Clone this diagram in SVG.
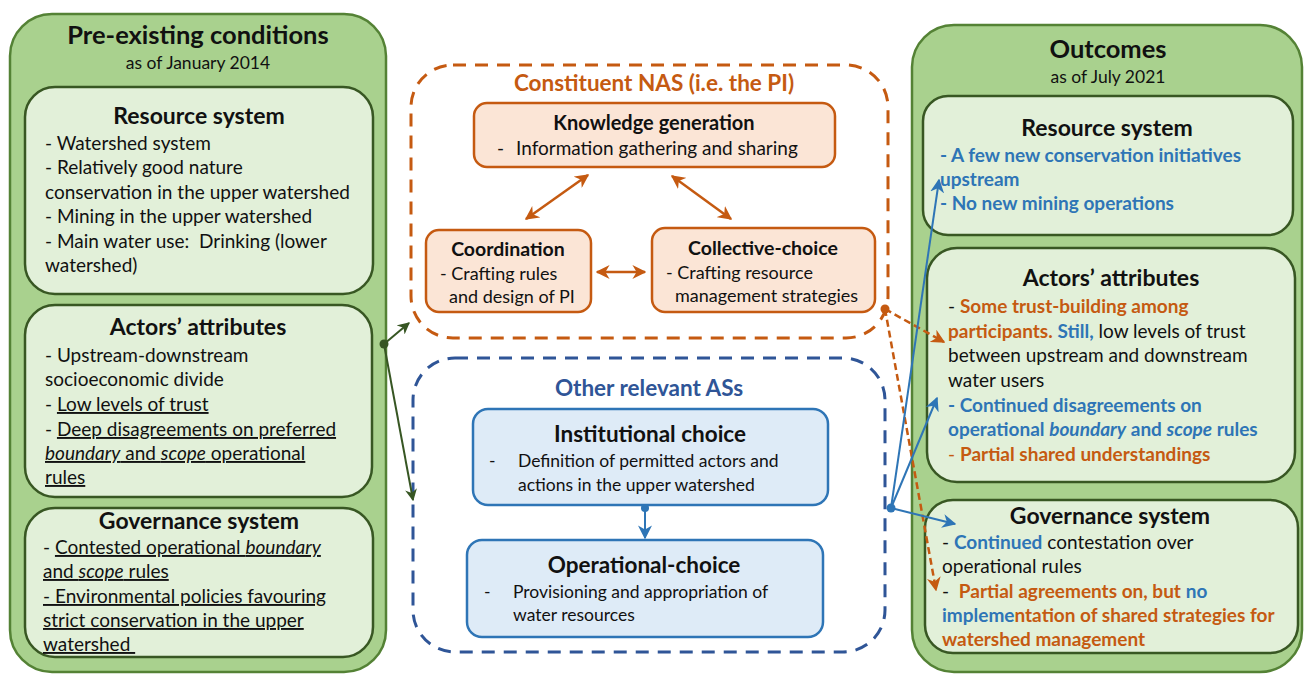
<svg xmlns="http://www.w3.org/2000/svg" width="1304" height="674" viewBox="0 0 1304 674">
<style>
text{font-family:Lato,"Liberation Sans",sans-serif;fill:#111;}
.panel{fill:#a9d18e;stroke:#548235;stroke-width:2.5;}
.inner{fill:#e2f0d9;stroke:#385723;stroke-width:2.5;}
.obox{fill:#fbe5d6;stroke:#c55a11;stroke-width:2.5;}
.bbox{fill:#deebf7;stroke:#2e75b6;stroke-width:2.5;}
.t1{font-size:25.5px;font-weight:bold;text-anchor:middle;}
.sub{font-size:17.5px;text-anchor:middle;}
.h{font-size:23px;font-weight:bold;text-anchor:middle;}
.h2{font-size:19.5px;font-weight:bold;text-anchor:middle;}
.h3{font-size:22.5px;font-weight:bold;text-anchor:middle;}
.b{font-size:19px;}
.s{font-size:18px;}
.sb{font-size:17.5px;}
.u{text-decoration:underline;}
.i{font-style:italic;}
.bl{fill:#2e75b6;font-weight:bold;}
.or{fill:#c55a11;font-weight:bold;}
.gc{stroke:#375623;stroke-width:2;fill:none;}
.oc{stroke:#c55a11;stroke-width:2.5;fill:none;}
.bc{stroke:#2e75b6;stroke-width:2;fill:none;}
</style>
<defs>
<marker id="ag" markerWidth="12" markerHeight="12" refX="9" refY="5" orient="auto-start-reverse" markerUnits="userSpaceOnUse" viewBox="0 0 10 10"><path d="M0,0 L10,5 L0,10 L3,5 z" fill="#375623"/></marker>
<marker id="ao" markerWidth="14" markerHeight="14" refX="9" refY="5" orient="auto-start-reverse" markerUnits="userSpaceOnUse" viewBox="0 0 10 10"><path d="M0,0 L10,5 L0,10 L3,5 z" fill="#c55a11"/></marker>
<marker id="ab" markerWidth="14" markerHeight="14" refX="9" refY="5" orient="auto-start-reverse" markerUnits="userSpaceOnUse" viewBox="0 0 10 10"><path d="M0,0 L10,5 L0,10 L3,5 z" fill="#2e75b6"/></marker>
</defs>
<rect width="1304" height="674" fill="#fff"/>

<g id="pre-existing">
<rect class="panel" x="10" y="14" width="376" height="658" rx="42"/>
<text class="t1" x="198" y="44">Pre-existing conditions</text>
<text class="sub" x="198" y="69">as of January 2014</text>
</g>

<g id="pre-resource">
<rect class="inner" x="25" y="87" width="348" height="207" rx="30"/>
<text class="h" x="199" y="124">Resource system</text>
<text class="b" x="45" y="150">- Watershed system</text>
<text class="b" x="45" y="174">- Relatively good nature</text>
<text class="b" x="45" y="199">conservation in the upper watershed</text>
<text class="b" x="45" y="223">- Mining in the upper watershed</text>
<text class="b" x="45" y="248">- Main water use:&#160; Drinking (lower</text>
<text class="b" x="45" y="272">watershed)</text>
</g>

<g id="pre-actors">
<rect class="inner" x="25" y="305" width="347" height="192" rx="30"/>
<text class="h" x="198" y="335">Actors’ attributes</text>
<text class="b" x="45" y="362">- Upstream-downstream</text>
<text class="b" x="45" y="386">socioeconomic divide</text>
<text class="b" x="45" y="411">- <tspan class="u">Low levels of trust</tspan></text>
<text class="b" x="45" y="436">- <tspan class="u">Deep disagreements on preferred</tspan></text>
<text class="b u" x="45" y="460"><tspan class="i">boundary</tspan> and <tspan class="i">scope</tspan> operational</text>
<text class="b u" x="45" y="484">rules</text>
</g>

<g id="pre-governance">
<rect class="inner" x="25" y="508" width="348" height="149" rx="30"/>
<text class="h" x="199" y="529">Governance system</text>
<text class="b" x="43" y="554">- <tspan class="u">Contested operational <tspan class="i">boundary</tspan></tspan></text>
<text class="b u" x="43" y="578">and <tspan class="i">scope</tspan> rules</text>
<text class="b u" x="43" y="603">- Environmental policies favouring</text>
<text class="b u" x="43" y="627">strict conservation in the upper</text>
<text class="b u" x="43" y="651">watershed&#160;</text>
</g>

<g id="nas">
<rect x="411" y="65" width="477" height="273" rx="42" fill="none" stroke="#c55a11" stroke-width="3" stroke-dasharray="13 9"/>
<text x="654" y="91" font-size="22.5" font-weight="bold" text-anchor="middle" style="fill:#c55a11">Constituent NAS (i.e. the PI)</text>
</g>

<g id="knowledge">
<rect class="obox" x="474" y="103" width="361" height="64" rx="13"/>
<text x="654" y="130" font-size="20" font-weight="bold" text-anchor="middle">Knowledge generation</text>
<text x="497" y="155" font-size="19">-</text>
<text x="516" y="155" font-size="19">Information gathering and sharing</text>
</g>

<g id="coordination">
<rect class="obox" x="426" y="230" width="165" height="82" rx="13"/>
<text class="h2" x="508" y="256">Coordination</text>
<text class="s" x="440" y="280">- Crafting rules</text>
<text class="s" x="449" y="303">and design of PI</text>
</g>

<g id="collective">
<rect class="obox" x="652" y="228" width="223" height="84" rx="13"/>
<text class="h2" x="763" y="255">Collective-choice</text>
<text class="s" x="666" y="279">- Crafting resource</text>
<text class="s" x="675" y="302">management strategies</text>
</g>

<g id="other-as">
<rect x="413" y="358" width="472" height="294" rx="42" fill="none" stroke="#2f5597" stroke-width="3" stroke-dasharray="13 9"/>
<text x="649" y="396" font-size="22.5" font-weight="bold" text-anchor="middle" style="fill:#2f5597">Other relevant ASs</text>
</g>

<g id="institutional">
<rect class="bbox" x="473" y="409" width="355" height="96" rx="15"/>
<text class="h3" x="650" y="442">Institutional choice</text>
<text class="sb" x="489" y="467">-</text>
<text class="sb" x="518" y="467">Definition of permitted actors and</text>
<text class="sb" x="518" y="491">actions in the upper watershed</text>
</g>

<g id="operational">
<rect class="bbox" x="467" y="540" width="356" height="97" rx="15"/>
<text class="h3" x="644" y="573">Operational-choice</text>
<text class="sb" x="484" y="598">-</text>
<text class="sb" x="513" y="598">Provisioning and appropriation of</text>
<text class="sb" x="513" y="621">water resources</text>
</g>

<g id="outcomes">
<rect class="panel" x="912" y="25" width="390" height="647" rx="42"/>
<text class="t1" x="1108" y="58">Outcomes</text>
<text class="sub" x="1108" y="83">as of July 2021</text>
</g>

<g id="out-resource">
<rect class="inner" x="923" y="96" width="370" height="139" rx="25"/>
<text class="h" x="1107" y="136">Resource system</text>
<text class="b bl" x="940" y="162">- A few new conservation initiatives</text>
<text class="b bl" x="940" y="186">upstream</text>
<text class="b bl" x="940" y="210">- No new mining operations</text>
</g>

<g id="out-actors">
<rect class="inner" x="927" y="248" width="368" height="234" rx="30"/>
<text class="h" x="1111" y="286">Actors’ attributes</text>
<text class="b" x="948" y="313">- <tspan class="or">Some trust-building among</tspan></text>
<text class="b" x="948" y="338"><tspan class="or">participants.</tspan> <tspan class="bl">Still,</tspan> low levels of trust</text>
<text class="b" x="948" y="362">between upstream and downstream</text>
<text class="b" x="948" y="387">water users</text>
<text class="b bl" x="948" y="412">- Continued disagreements on</text>
<text class="b bl" x="948" y="436">operational <tspan class="i">boundary</tspan> and <tspan class="i">scope</tspan> rules</text>
<text class="b" x="948" y="461"><tspan style="fill:#c55a11">-</tspan> <tspan class="or">Partial shared understandings</tspan></text>
</g>

<g id="out-governance">
<rect class="inner" x="925" y="500" width="373" height="153" rx="28"/>
<text class="h" x="1110" y="524">Governance system</text>
<text class="b" x="942" y="549">- <tspan class="bl">Continued</tspan> contestation over</text>
<text class="b" x="942" y="573">operational rules</text>
<text class="b" x="942" y="598">-&#160; <tspan class="or">Partial agreements on, but</tspan> <tspan class="bl">no</tspan></text>
<text class="b" x="942" y="622"><tspan class="bl">impleme</tspan><tspan class="or">ntation of shared strategies for</tspan></text>
<text class="b or" x="942" y="646">watershed management</text>
</g>

<g id="connectors">
<line class="oc" x1="526" y1="219" x2="588" y2="175" marker-start="url(#ao)" marker-end="url(#ao)"/>
<line class="oc" x1="672" y1="176" x2="731" y2="219" marker-start="url(#ao)" marker-end="url(#ao)"/>
<line class="oc" x1="597" y1="272" x2="645" y2="272" marker-start="url(#ao)" marker-end="url(#ao)"/>
<circle cx="645" cy="508" r="4" fill="#2e75b6"/>
<line class="bc" x1="645" y1="508" x2="645" y2="538" stroke-width="2.5" marker-end="url(#ab)"/>
<circle cx="384" cy="344" r="4.5" fill="#375623"/>
<line class="gc" x1="384" y1="344" x2="409" y2="323" marker-end="url(#ag)"/>
<line class="gc" x1="384" y1="344" x2="413" y2="500" marker-end="url(#ag)"/>
<circle cx="885" cy="309" r="4.5" fill="#c55a11"/>
<line class="oc" x1="885" y1="309" x2="944" y2="342" stroke-dasharray="7 4" marker-end="url(#ao)"/>
<line class="oc" x1="885" y1="309" x2="936" y2="590" stroke-dasharray="7 4" marker-end="url(#ao)"/>
<circle cx="891" cy="508" r="4.5" fill="#2e75b6"/>
<line class="bc" x1="891" y1="508" x2="939" y2="180" marker-end="url(#ab)"/>
<line class="bc" x1="891" y1="508" x2="937" y2="398" marker-end="url(#ab)"/>
<line class="bc" x1="891" y1="508" x2="955" y2="524" marker-end="url(#ab)"/>
</g>
</svg>
